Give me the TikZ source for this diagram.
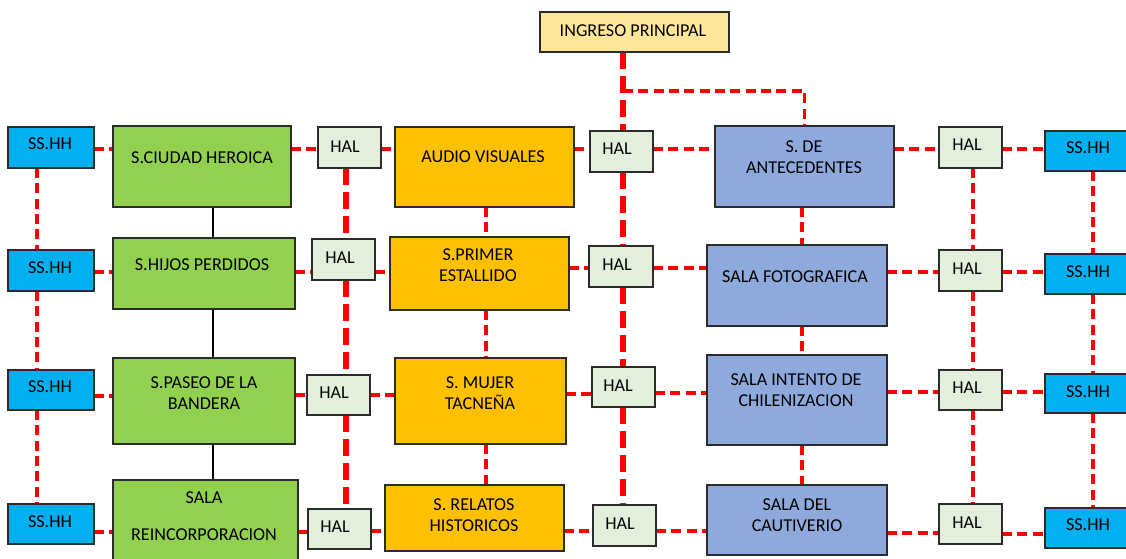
\documentclass[tikz,border=0pt]{standalone}
\usepackage{fontspec}
\setmainfont{Carlito}
\usetikzlibrary{backgrounds}
\definecolor{cgreen}{HTML}{92D050}
\definecolor{corange}{HTML}{FFC000}
\definecolor{cblue}{HTML}{8EA9DB}
\definecolor{csshh}{HTML}{00B0F0}
\definecolor{chal}{HTML}{E2EFDA}
\definecolor{cing}{HTML}{FFE699}
\definecolor{boxline}{HTML}{2B2B2B}
\definecolor{cred}{HTML}{FF0000}
\tikzset{
  bx/.style={draw=boxline, line width=1pt, inner sep=0pt, outer sep=0pt},
  gbox/.style={bx, fill=cgreen},
  obox/.style={bx, fill=corange},
  bbox/.style={bx, fill=cblue},
  sbox/.style={bx, fill=csshh},
  hbox/.style={bx, fill=chal},
  ibox/.style={bx, fill=cing},
  txt/.style={inner sep=0pt, align=center, font=\fontsize{13.6}{15.8}\selectfont, text=black},
  rthin/.style={draw=cred, line width=2.6pt, dash pattern=on 7.5pt off 4pt},
  rthick/.style={draw=cred, line width=4.8pt, dash pattern=on 12.5pt off 5.5pt},
  blk/.style={draw=black, line width=1.5pt}
}
\newcommand\mybox[9]{%
  \node[#6, minimum width={(#4-#2)*0.75pt}, minimum height={(#5-#3)*0.75pt}] (#1) at ({(#2+#4)/2},{(#3+#5)/2}) {};
  \node[txt] (#1t) at (#7,#8) {#9};}
\begin{document}
\begin{tikzpicture}[x=0.75pt,y=-0.75pt]
\useasboundingbox (0,0) rectangle (1126,559);
% top
\mybox{ing}{540}{12}{729}{52}{ibox}{633}{31}{INGRESO PRINCIPAL}
% row 1
\mybox{ssl1}{8}{127}{94}{168}{sbox}{50}{144}{SS.HH}
\mybox{c1}{113}{126}{291}{207}{gbox}{202}{158}{S.CIUDAD HEROICA}
\mybox{h1a}{318}{127}{381}{168}{hbox}{345}{147}{HAL}
\mybox{o1}{395}{127}{574}{207}{obox}{483}{157}{AUDIO VISUALES}
\mybox{h1b}{590}{131}{653}{172}{hbox}{617}{149}{HAL}
\mybox{b1}{715}{126}{894}{207}{bbox}{804}{157.5}{S. DE\\ANTECEDENTES}
\mybox{h1c}{939}{127}{1002}{168}{hbox}{967}{145}{HAL}
\mybox{ssr1}{1045}{131}{1128}{171}{sbox}{1088}{148}{SS.HH}
% row 2
\mybox{ssl2}{8}{250}{94}{291}{sbox}{50}{268}{SS.HH}
\mybox{c2}{113}{238}{295}{309}{gbox}{202}{265}{S.HIJOS PERDIDOS}
\mybox{h2a}{312}{239}{375}{280}{hbox}{340}{258}{HAL}
\mybox{o2}{390}{237}{569}{310}{obox}{478}{265.5}{S.PRIMER\\ESTALLIDO}
\mybox{h2b}{589}{246}{653}{287}{hbox}{617}{265}{HAL}
\mybox{b2}{707}{245}{887}{326}{bbox}{795}{277}{SALA FOTOGRAFICA}
\mybox{h2c}{939}{250}{1002}{291}{hbox}{967}{269}{HAL}
\mybox{ssr2}{1045}{254}{1128}{294}{sbox}{1088}{272}{SS.HH}
% row 3
\mybox{ssl3}{8}{370}{94}{410}{sbox}{50}{387}{SS.HH}
\mybox{c3}{113}{358}{295}{444}{gbox}{204}{393}{S.PASEO DE LA\\BANDERA}
\mybox{h3a}{307}{375}{370}{415}{hbox}{334}{393}{HAL}
\mybox{o3}{395}{358}{566}{444}{obox}{480}{393}{S. MUJER\\TACNEÑA}
\mybox{h3b}{592}{367}{655}{407}{hbox}{618}{386}{HAL}
\mybox{b3}{707}{355}{887}{445}{bbox}{796}{390.5}{SALA INTENTO DE\\CHILENIZACION}
\mybox{h3c}{939}{370}{1002}{410}{hbox}{967}{388}{HAL}
\mybox{ssr3}{1045}{374}{1128}{413}{sbox}{1088}{392}{SS.HH}
% row 4
\mybox{ssl4}{8}{504}{94}{544}{sbox}{50}{522}{SS.HH}
\mybox{c4}{113}{480}{298}{566}{gbox}{204}{516.5}{SALA\\[12pt]REINCORPORACION}
\mybox{h4a}{308}{509}{371}{549}{hbox}{335}{527}{HAL}
\mybox{o4}{385}{485}{564}{551}{obox}{474}{515}{S. RELATOS\\HISTORICOS}
\mybox{h4b}{593}{505}{656}{546}{hbox}{620}{524}{HAL}
\mybox{b4}{707}{485}{887}{555}{bbox}{797}{515}{SALA DEL\\CAUTIVERIO}
\mybox{h4c}{939}{504}{1002}{544}{hbox}{967}{523}{HAL}
\mybox{ssr4}{1045}{508}{1128}{548}{sbox}{1088}{525}{SS.HH}
\coordinate (br) at (623,91);
\begin{pgfonlayer}{background}
\fill[white] (0,0) rectangle (1126,559);
% horizontal row 1
\draw[rthin] (ssl1.east |- 0,149) -- (c1.west |- 0,149);
\draw[rthin] (c1.east |- 0,149) -- (h1a.west |- 0,149);
\draw[rthin] (h1a.east |- 0,149) -- (o1.west |- 0,149);
\draw[rthin] (o1.east |- 0,149) -- (h1b.west |- 0,149);
\draw[rthin] (h1b.east |- 0,149) -- (b1.west |- 0,149);
\draw[rthin] (b1.east |- 0,149) -- (h1c.west |- 0,149);
\draw[rthin] (h1c.east |- 0,149) -- (ssr1.west |- 0,149);
% row 2
\draw[rthin] (ssl2.east |- 0,272) -- (c2.west |- 0,272);
\draw[rthin] (c2.east |- 0,272) -- (h2a.west |- 0,272);
\draw[rthin] (h2a.east |- 0,272) -- (o2.west |- 0,272);
\draw[rthin] (o2.east |- 0,268) -- (h2b.west |- 0,268);
\draw[rthin] (h2b.east |- 0,268) -- (b2.west |- 0,268);
\draw[rthin] (b2.east |- 0,272) -- (h2c.west |- 0,272);
\draw[rthin] (h2c.east |- 0,272) -- (ssr2.west |- 0,272);
% row 3
\draw[rthin] (ssl3.east |- 0,396) -- (c3.west |- 0,396);
\draw[rthin] (c3.east |- 0,395) -- (h3a.west |- 0,395);
\draw[rthin] (h3a.east |- 0,395) -- (o3.west |- 0,395);
\draw[rthin] (o3.east |- 0,394) -- (h3b.west |- 0,394);
\draw[rthin] (h3b.east |- 0,393) -- (b3.west |- 0,393);
\draw[rthin] (b3.east |- 0,392) -- (h3c.west |- 0,392);
\draw[rthin] (h3c.east |- 0,392) -- (ssr3.west |- 0,392);
% row 4
\draw[rthin] (ssl4.east |- 0,532) -- (c4.west |- 0,532);
\draw[rthin] (c4.east |- 0,532) -- (h4a.west |- 0,532);
\draw[rthin] (h4a.east |- 0,531) -- (o4.west |- 0,531);
\draw[rthin] (o4.east |- 0,531) -- (h4b.west |- 0,531);
\draw[rthin] (h4b.east |- 0,531) -- (b4.west |- 0,531);
\draw[rthin] (b4.east |- 0,533) -- (h4c.west |- 0,533);
\draw[rthin] (h4c.east |- 0,534) -- (ssr4.west |- 0,534);
% vertical columns
\draw[rthin] (ssl1.south -| 37,0) -- (ssl2.north -| 37,0);
\draw[rthin] (ssl2.south -| 37,0) -- (ssl3.north -| 37,0);
\draw[rthin] (ssl3.south -| 37,0) -- (ssl4.north -| 37,0);
\draw[blk] (c1.south -| 213,0) -- (c2.north -| 213,0);
\draw[blk] (c2.south -| 213,0) -- (c3.north -| 213,0);
\draw[blk] (c3.south -| 213,0) -- (c4.north -| 213,0);
\draw[rthick] (h1a.south -| 346,0) -- (h2a.north -| 346,0);
\draw[rthick] (h2a.south -| 346,0) -- (h3a.north -| 346,0);
\draw[rthick] (h3a.south -| 346,0) -- (h4a.north -| 346,0);
\draw[rthin] (o1.south -| 486,0) -- (o2.north -| 486,0);
\draw[rthin] (o2.south -| 486,0) -- (o3.north -| 486,0);
\draw[rthin] (o3.south -| 486,0) -- (o4.north -| 486,0);
\draw[rthick] (ing.south -| 623,0) -- (h1b.north -| 623,0);
\draw[rthick] (h1b.south -| 623,0) -- (h2b.north -| 623,0);
\draw[rthick] (h2b.south -| 623,0) -- (h3b.north -| 623,0);
\draw[rthick] (h3b.south -| 623,0) -- (h4b.north -| 623,0);
\draw[rthin] (br) -- (br -| b1.north) -- (b1.north);
\draw[rthin] (b1.south -| 802,0) -- (b2.north -| 802,0);
\draw[rthin] (b2.south -| 802,0) -- (b3.north -| 802,0);
\draw[rthin] (b3.south -| 802,0) -- (b4.north -| 802,0);
\draw[rthin] (h1c.south -| 973,0) -- (h2c.north -| 973,0);
\draw[rthin] (h2c.south -| 973,0) -- (h3c.north -| 973,0);
\draw[rthin] (h3c.south -| 973,0) -- (h4c.north -| 973,0);
\draw[rthin] (ssr1.south -| 1093,0) -- (ssr2.north -| 1093,0);
\draw[rthin] (ssr2.south -| 1093,0) -- (ssr3.north -| 1093,0);
\draw[rthin] (ssr3.south -| 1093,0) -- (ssr4.north -| 1093,0);
\end{pgfonlayer}
\end{tikzpicture}
\end{document}
